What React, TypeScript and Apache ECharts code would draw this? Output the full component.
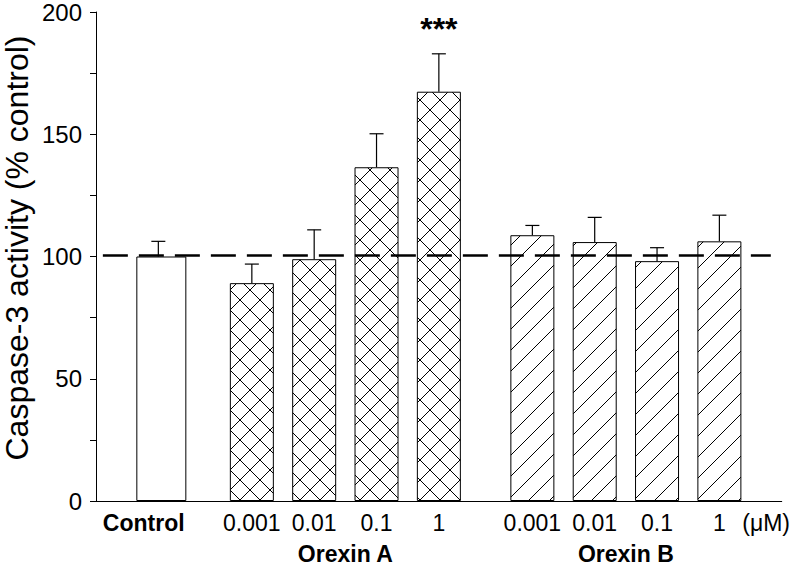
import React, { useEffect, useRef } from "react";
import * as echarts from "echarts";

// Data
const controlLabel = "Control";
const controlMean = [100];
const controlSem = [6.2];

const doseLabels = ["0.001", "0.01", "0.1", "1"];
const orexinAMean = [89.1, 98.9, 136.5, 167.4];
const orexinASem = [7.8, 12.0, 13.7, 15.5];
const orexinBMean = [108.7, 105.9, 98.1, 106.2];
const orexinBSem = [4.0, 10.1, 5.5, 10.7];

const groupLabels = ["Orexin A", "Orexin B"];
const unitLabel = "(\u03bcM)";
const referenceLevel = 100.5;
const significance = "***";
const yTicks = [0, 50, 100, 150, 200];
const yTitle = "Caspase-3 activity (% control)";

// slot positions on the x scale (half-slot units)
const controlPos = [0];
const orexinAPos = [3, 5, 7, 9];
const orexinBPos = [12, 14, 16, 18];
const controlLabelPos = -0.47;
const groupPos = [6, 15];
const unitPos = 19.5;

const FONT = "'Liberation Sans', Arial, Helvetica, sans-serif";

function makeCrossHatch(size: number) {
  const c = document.createElement("canvas");
  c.width = size;
  c.height = size;
  const g = c.getContext("2d")!;
  g.fillStyle = "#fff";
  g.fillRect(0, 0, size, size);
  g.strokeStyle = "#000";
  g.lineWidth = 1;
  for (const o of [-size, 0, size]) {
    g.beginPath();
    g.moveTo(o - 1, -1);
    g.lineTo(o + size + 1, size + 1);
    g.stroke();
    g.beginPath();
    g.moveTo(o + size + 1, -1);
    g.lineTo(o - 1, size + 1);
    g.stroke();
  }
  return c;
}

function makeDiagHatch(size: number) {
  const c = document.createElement("canvas");
  c.width = size;
  c.height = size;
  const g = c.getContext("2d")!;
  g.fillStyle = "#fff";
  g.fillRect(0, 0, size, size);
  g.strokeStyle = "#000";
  g.lineWidth = 1;
  for (const o of [-size, 0, size]) {
    g.beginPath();
    g.moveTo(o - 1, size + 1);
    g.lineTo(o + size + 1, -1);
    g.stroke();
  }
  return c;
}

export default function App() {
  const ref = useRef<HTMLDivElement>(null);
  useEffect(() => {
    if (!ref.current) return;
    const chart = echarts.init(ref.current, undefined, { renderer: "svg" });

    const cross = makeCrossHatch(20);
    const diag = makeDiagHatch(21);

    const xTickValues = [controlLabelPos, ...orexinAPos, ...orexinBPos, unitPos];
    const xTickTexts = [controlLabel, ...doseLabels, ...doseLabels, unitLabel];

    const errData = [
      ...controlPos.map((p, i) => [p, controlMean[i], controlMean[i] + controlSem[i]]),
      ...orexinAPos.map((p, i) => [p, orexinAMean[i], orexinAMean[i] + orexinASem[i]]),
      ...orexinBPos.map((p, i) => [p, orexinBMean[i], orexinBMean[i] + orexinBSem[i]]),
    ];

    const maxIdx = orexinAMean.indexOf(Math.max(...orexinAMean));

    const barCommon = {
      type: "bar",
      barGap: "-100%",
      silent: true,
      z: 2,
    };

    chart.setOption({
      animation: false,
      backgroundColor: "#fff",
      grid: { left: 96, right: 6, top: 7, bottom: 61, containLabel: false },
      graphic: [
        {
          type: "text",
          x: 17,
          y: 248,
          rotation: Math.PI / 2,
          silent: true,
          style: {
            text: yTitle,
            fill: "#000",
            font: "32px " + FONT,
            align: "center",
            verticalAlign: "middle",
          },
        },
      ],
      xAxis: [
        {
          type: "value",
          min: -2,
          max: 20,
          splitLine: { show: false },
          axisLine: { show: true, onZero: false, lineStyle: { color: "#000", width: 1 } },
          axisTick: { show: false },
          axisLabel: {
            customValues: xTickValues,
            margin: 10,
            color: "#000",
            fontFamily: FONT,
            fontSize: 23,
            formatter: (v: number) => {
              const i = xTickValues.findIndex((t) => Math.abs(t - v) < 1e-6);
              if (i < 0) return "";
              const t = xTickTexts[i];
              return t === controlLabel ? "{b|" + t + "}" : t;
            },
            rich: {
              b: { fontWeight: "bold", fontSize: 23, fontFamily: FONT, color: "#000" },
            },
          },
        },
        {
          type: "value",
          min: -2,
          max: 20,
          position: "bottom",
          splitLine: { show: false },
          axisLine: { show: false },
          axisTick: { show: false },
          axisLabel: {
            customValues: groupPos,
            margin: 41,
            color: "#000",
            fontFamily: FONT,
            fontSize: 23,
            fontWeight: "bold",
            formatter: (v: number) => {
              const i = groupPos.findIndex((t) => Math.abs(t - v) < 1e-6);
              return i < 0 ? "" : groupLabels[i];
            },
          },
        },
      ],
      yAxis: {
        type: "value",
        min: 0,
        max: 200,
        interval: 25,
        splitLine: { show: false },
        axisLine: { show: true, onZero: false, lineStyle: { color: "#000", width: 1 } },
        axisTick: { show: true, inside: false, length: 6, lineStyle: { color: "#000" } },
        axisLabel: {
          margin: 14,
          color: "#000",
          fontFamily: FONT,
          fontSize: 24,
          formatter: (v: number) => (yTicks.includes(v) ? String(v) : ""),
        },
      },
      series: [
        {
          ...barCommon,
          name: "Control",
          barWidth: 50,
          itemStyle: { color: "#fff", borderColor: "#000", borderWidth: 1 },
          data: controlPos.map((p, i) => [p, controlMean[i]]),
        },
        {
          ...barCommon,
          name: "Orexin A",
          barWidth: 44,
          itemStyle: {
            color: { image: cross, repeat: "repeat", imageWidth: 20, imageHeight: 20 },
            borderColor: "#000",
            borderWidth: 1,
          },
          data: orexinAPos.map((p, i) => [p, orexinAMean[i]]),
          markPoint: {
            silent: true,
            symbol: "circle",
            symbolSize: 0,
            data: [
              {
                coord: [orexinAPos[maxIdx], 193],
                label: {
                  show: true,
                  formatter: significance,
                  position: "inside",
                  color: "#000",
                  fontFamily: FONT,
                  fontSize: 32,
                  fontWeight: "bold",
                },
              },
            ],
          },
        },
        {
          ...barCommon,
          name: "Orexin B",
          barWidth: 44,
          itemStyle: {
            color: { image: diag, repeat: "repeat", imageWidth: 21, imageHeight: 21 },
            borderColor: "#000",
            borderWidth: 1,
          },
          data: orexinBPos.map((p, i) => [p, orexinBMean[i]]),
        },
        {
          type: "custom",
          name: "SEM",
          silent: true,
          z: 3,
          data: errData,
          encode: { x: 0, y: [1, 2] },
          renderItem: (params: any, api: any) => {
            const x = api.value(0);
            const base = api.coord([x, api.value(1)]);
            const top = api.coord([x, api.value(2)]);
            const half = 7;
            return {
              type: "group",
              children: [
                {
                  type: "line",
                  shape: { x1: base[0], y1: base[1], x2: top[0], y2: top[1] },
                  style: { stroke: "#000", lineWidth: 1.2 },
                },
                {
                  type: "line",
                  shape: { x1: top[0] - half, y1: top[1], x2: top[0] + half, y2: top[1] },
                  style: { stroke: "#000", lineWidth: 1.2 },
                },
              ],
            };
          },
        },
        {
          type: "line",
          name: "ref",
          data: [],
          silent: true,
          z: 4,
          markLine: {
            silent: true,
            symbol: "none",
            label: { show: false },
            lineStyle: { color: "#000", type: [25, 11], width: 2.5 },
            data: [[{ coord: [-1.78, referenceLevel] }, { coord: [19.65, referenceLevel] }]],
          },
        },
      ],
    });
    return () => chart.dispose();
  }, []);
  return (
    <div
      ref={ref}
      style={{ position: "absolute", left: 0, top: 0, width: 793, height: 565, background: "#fff" }}
    />
  );
}
